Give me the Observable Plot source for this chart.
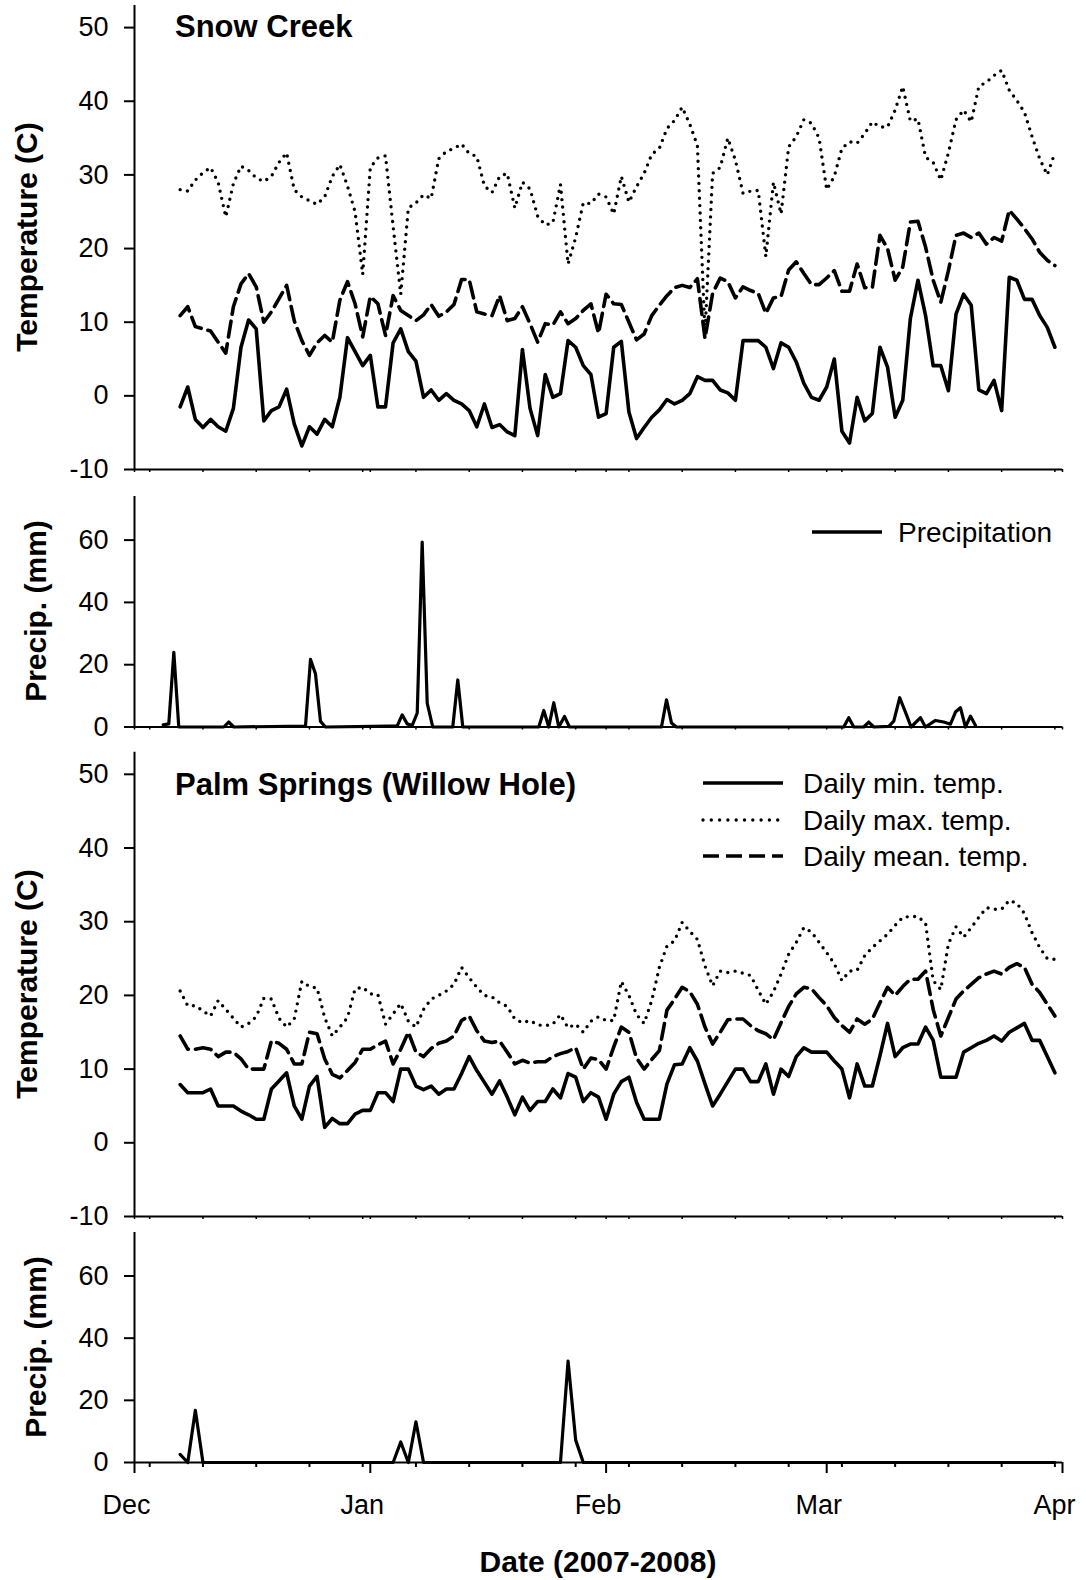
<!DOCTYPE html>
<html><head><meta charset="utf-8">
<script src="https://cdn.jsdelivr.net/npm/d3@7"></script>
<script src="https://cdn.jsdelivr.net/npm/@observablehq/plot@0.6"></script>
<style>
html,body{margin:0;padding:0;background:#fff;}
#chart{position:relative;width:1086px;height:1580px;background:#fff;}
</style></head><body><div id="chart"></div>
<script>
// ---------- DATA (daily values from 7 Dec 2007 to 31 Mar 2008) ----------
const tempStartDate = "2007-12-07";
const scMin = [
 -1.5, 1.2, -3.2, -4.3, -3.2, -4.2, -4.8, -1.7, 6.6, 10.3,
 9.1, -3.4, -2.0, -1.5, 0.9, -3.8, -6.8, -4.2, -5.2, -3.2,
 -4.2, -0.2, 7.9, 6.0, 4.1, 5.5, -1.5, -1.5, 7.2, 9.1,
 6.0, 4.7, -0.2, 0.8, -0.6, 0.3, -0.6, -1.1, -2.0, -4.2,
 -1.1, -4.3, -3.9, -4.9, -5.4, 6.3, -1.7, -5.4, 2.9, -0.2,
 0.3, 7.5, 6.6, 4.1, 2.9, -2.9, -2.4, 6.6, 7.4, -2.2,
 -5.8, -4.3, -2.9, -1.9, -0.5, -1.1, -0.6, 0.3, 2.6, 2.1,
 2.1, 0.8, 0.4, -0.6, 7.5, 7.5, 7.5, 6.6, 3.7, 7.2,
 6.6, 4.6, 1.7, -0.2, -0.6, 1.2, 5.0, -4.8, -6.4, -0.2,
 -3.4, -2.4, 6.6, 3.9, -2.9, -0.6, 10.5, 15.7, 10.9, 4.1,
 4.1, 0.7, 11.1, 13.8, 12.3, 0.8, 0.3, 2.1, -2.0, 16.1,
 15.7, 13.1, 13.1, 10.9, 9.3, 6.6];
const scMax = [
 28.0, 27.8, 29.3, 30.3, 31.0, 29.0, 24.3, 28.8, 31.2, 30.6,
 29.6, 29.1, 29.8, 31.7, 33.0, 28.0, 27.0, 26.5, 26.0, 27.0,
 29.8, 31.4, 28.5, 25.0, 16.5, 31.0, 32.3, 32.6, 23.0, 13.8,
 25.5, 26.2, 27.3, 26.8, 32.2, 33.2, 33.6, 34.2, 32.9, 32.5,
 28.5, 27.6, 29.8, 30.2, 25.5, 29.0, 28.1, 24.4, 23.2, 23.5,
 28.7, 17.9, 21.5, 26.2, 26.1, 27.4, 27.0, 24.7, 29.8, 26.3,
 28.4, 30.2, 32.8, 33.6, 36.3, 37.4, 39.2, 36.9, 34.0, 8.5,
 30.2, 31.0, 35.0, 32.0, 27.5, 27.8, 27.9, 18.9, 29.0, 24.7,
 33.8, 35.2, 37.5, 37.0, 35.0, 28.0, 29.8, 33.6, 34.5, 34.3,
 35.6, 37.2, 36.5, 36.5, 38.8, 42.0, 37.3, 37.6, 32.4, 31.7,
 29.3, 33.0, 37.5, 38.8, 37.2, 42.0, 42.6, 43.5, 44.2, 41.5,
 40.1, 38.5, 35.2, 32.2, 30.0, 33.0];
const scMean = [
 10.9, 12.1, 9.4, 9.1, 8.8, 7.3, 5.8, 12.1, 15.2, 16.6,
 14.8, 10.0, 11.4, 13.2, 15.0, 10.2, 7.5, 5.5, 7.2, 8.2,
 7.3, 13.0, 15.5, 12.5, 8.0, 13.5, 12.5, 8.2, 13.6, 11.6,
 10.9, 10.2, 11.0, 12.4, 10.8, 11.4, 12.4, 15.8, 15.8, 11.4,
 11.1, 10.9, 13.6, 10.2, 10.5, 12.1, 9.8, 7.3, 9.8, 9.6,
 11.4, 9.8, 10.5, 11.6, 12.5, 8.5, 13.8, 12.5, 12.4, 10.0,
 7.6, 8.4, 10.9, 12.3, 13.6, 14.7, 15.0, 14.7, 15.9, 7.8,
 13.9, 16.0, 15.5, 13.3, 14.8, 14.3, 13.9, 11.2, 13.3, 13.5,
 17.1, 18.2, 16.6, 15.1, 15.1, 16.0, 17.0, 14.2, 14.2, 17.9,
 14.7, 14.7, 21.8, 20.0, 15.7, 17.5, 23.6, 23.7, 20.2, 15.7,
 12.7, 17.0, 21.8, 22.1, 21.5, 22.1, 20.6, 21.5, 21.0, 25.2,
 24.0, 22.7, 21.3, 19.5, 18.4, 17.7];
const psMin = [
 7.9, 6.8, 6.8, 6.8, 7.3, 5.0, 5.0, 5.0, 4.3, 3.8,
 3.2, 3.2, 7.3, 8.4, 9.5, 5.0, 3.2, 7.7, 9.0, 2.1,
 3.3, 2.6, 2.6, 3.9, 4.4, 4.4, 6.8, 6.8, 5.6, 10.0,
 10.0, 7.7, 7.2, 7.7, 6.6, 7.3, 7.3, 9.4, 11.7, 9.8,
 8.2, 6.6, 8.4, 6.2, 3.8, 6.2, 4.4, 5.6, 5.6, 7.3,
 6.1, 9.4, 8.9, 5.6, 6.8, 6.2, 3.2, 6.6, 8.3, 8.9,
 5.5, 3.2, 3.2, 3.2, 8.0, 10.6, 10.7, 12.9, 11.1, 8.0,
 5.0, 6.6, 8.3, 10.0, 10.0, 8.3, 8.3, 10.7, 6.6, 10.0,
 9.0, 11.7, 12.9, 12.3, 12.3, 12.3, 11.1, 10.0, 6.1, 10.7,
 7.7, 7.7, 11.8, 16.2, 11.7, 12.9, 13.4, 13.4, 15.7, 13.9,
 8.9, 8.9, 8.9, 12.3, 12.9, 13.5, 13.9, 14.5, 13.8, 15.0,
 15.6, 16.2, 13.9, 13.9, 11.7, 9.5];
const psMax = [
 20.6, 18.6, 18.6, 17.9, 17.2, 19.3, 18.1, 16.9, 15.7, 16.2,
 17.1, 19.6, 19.5, 16.9, 15.7, 16.8, 21.9, 21.2, 21.0, 17.0,
 14.5, 15.7, 17.0, 20.9, 21.1, 20.2, 20.1, 16.1, 17.5, 18.9,
 16.5, 15.7, 18.1, 19.5, 20.0, 20.6, 21.5, 23.8, 22.4, 21.1,
 20.0, 19.8, 19.0, 18.5, 16.8, 16.3, 16.6, 16.0, 15.9, 16.1,
 17.4, 15.6, 16.1, 15.0, 16.5, 17.1, 16.6, 16.6, 21.9, 20.0,
 17.4, 16.2, 19.3, 23.8, 26.7, 27.4, 29.9, 28.7, 27.6, 24.0,
 21.3, 23.3, 23.1, 23.3, 23.0, 22.7, 20.7, 18.8, 20.5, 22.9,
 25.6, 27.2, 29.2, 28.6, 27.2, 25.8, 24.3, 22.0, 23.3, 23.4,
 25.4, 26.5, 27.4, 28.3, 29.5, 30.6, 30.7, 30.7, 29.8, 22.0,
 20.8, 27.0, 29.3, 27.9, 29.2, 30.6, 31.9, 31.7, 31.7, 32.9,
 32.5, 31.1, 28.5, 26.5, 25.0, 24.9];
const psMean = [
 14.5, 12.7, 12.7, 12.9, 12.7, 11.7, 12.3, 12.3, 11.4, 10.0,
 10.0, 10.0, 13.8, 13.5, 12.7, 10.7, 10.7, 15.0, 14.8, 11.4,
 9.3, 8.8, 9.8, 10.9, 12.7, 12.7, 13.3, 13.8, 10.7, 12.7,
 15.0, 12.3, 11.7, 12.8, 13.5, 13.8, 14.5, 16.6, 17.2, 15.2,
 13.8, 13.6, 13.8, 12.3, 10.7, 11.2, 10.8, 11.0, 11.0, 11.7,
 12.1, 12.4, 12.9, 10.0, 11.5, 11.3, 10.0, 13.0, 15.7, 15.0,
 11.5, 10.0, 11.3, 12.5, 18.0, 19.5, 21.1, 20.5, 18.8, 15.7,
 13.4, 15.0, 16.7, 16.8, 16.8, 15.9, 15.2, 14.8, 14.0, 16.3,
 18.5, 20.2, 21.1, 20.9, 19.7, 18.6, 17.0, 15.9, 15.0, 16.8,
 16.1, 16.8, 19.0, 21.1, 20.0, 21.2, 22.2, 22.2, 23.3, 18.1,
 14.5, 17.0, 19.5, 20.6, 21.5, 22.4, 22.9, 23.3, 22.9, 23.8,
 24.3, 23.8, 21.5, 20.4, 18.8, 17.2];
// Palm Springs daily precipitation (mm), same dates as temperatures
const psPrecip = [
 2.6, 0, 16.8, 0, 0, 0, 0, 0, 0, 0,
 0, 0, 0, 0, 0, 0, 0, 0, 0, 0,
 0, 0, 0, 0, 0, 0, 0, 0, 0, 6.6,
 0, 13.1, 0, 0, 0, 0, 0, 0, 0, 0,
 0, 0, 0, 0, 0, 0, 0, 0, 0, 0,
 0, 32.6, 7.2, 0, 0, 0, 0, 0, 0, 0,
 0, 0, 0, 0, 0, 0, 0, 0, 0, 0,
 0, 0, 0, 0, 0, 0, 0, 0, 0, 0,
 0, 0, 0, 0, 0, 0, 0, 0, 0, 0,
 0, 0, 0, 0, 0, 0, 0, 0, 0, 0,
 0, 0, 0, 0, 0, 0, 0, 0, 0, 0,
 0, 0, 0, 0, 0, 0];
// Snow Creek precipitation readings: time (days after 1 Dec 2007) and amount (mm)
const scPrecipDay = [3.77, 4.51, 5.17, 5.82, 11.74, 12.38, 13.05, 22.48, 23.14, 23.79, 24.45, 25.11,
 33.43, 34.53, 35.19, 35.85, 36.51, 37.17, 37.82, 38.48, 39.21, 41.84, 42.50, 43.16,
 53.15, 53.81, 54.46, 55.12, 55.78, 56.53, 57.18, 69.28, 69.94, 70.59, 71.25,
 93.24, 93.90, 94.56, 95.87, 96.53, 97.19, 99.16, 99.82, 100.60, 101.35, 102.10,
 103.33, 103.98, 105.30, 106.39, 107.27, 107.93, 108.58, 109.24, 109.90, 110.56];
const scPrecipMm = [0.7, 1.0, 24.0, 0, 0, 1.6, 0, 0.3, 21.7, 17.1, 1.8, 0,
 0.3, 0.3, 3.9, 1.0, 0.5, 4.5, 59.4, 7.7, 0, 0, 15.1, 0,
 0, 5.3, 0, 7.8, 0, 3.4, 0, 0, 8.7, 1.3, 0,
 0, 3.0, 0, 0, 1.6, 0, 0.2, 1.9, 9.4, 4.8, 0,
 3.0, 0, 2.1, 1.6, 0.9, 4.8, 6.2, 0, 3.5, 0.5];
const tempTicks = [-10, 0, 10, 20, 30, 40, 50];
const precipTicks = [0, 20, 40, 60];
const titles = ["Snow Creek", "Palm Springs (Willow Hole)"];
const legendLabels = ["Daily min. temp.", "Daily max. temp.", "Daily mean. temp."];

// ---------- BUILD ----------
const FONT = '"Liberation Sans", Arial, Helvetica, sans-serif';
const DAY = 864e5;
const x0 = new Date(Date.UTC(2007, 11, 1));
const xDomain = [x0, new Date(Date.UTC(2008, 3, 1))];
const tickEnd = new Date(Date.UTC(2008, 3, 2));
const monthTicks = d3.utcMonth.range(x0, tickEnd);
const weekTicks = d3.utcMonday.range(x0, tickEnd);
const t0 = new Date(tempStartDate + "T00:00:00Z").getTime();
const dates = scMin.map((_, i) => new Date(t0 + i * DAY));
const sc = dates.map((date, i) => ({date, min: scMin[i], max: scMax[i], mean: scMean[i]}));
const ps = dates.map((date, i) => ({date, min: psMin[i], max: psMax[i], mean: psMean[i], p: psPrecip[i]}));
const scP = scPrecipDay.map((d, i) => ({date: new Date(x0.getTime() + d * DAY), p: scPrecipMm[i]}));

const chart = document.getElementById("chart");

const minorAxis = () => [Plot.axisX({ticks: weekTicks.concat(monthTicks), tickSize: 3, tickFormat: () => "", strokeWidth: 1.5, label: null})];

function panel({top, height, marginTop, marginBottom, yDomain, yTicks, marks, xAxis}) {
  const svg = Plot.plot({
    width: 1086, height, marginLeft: 134, marginRight: 24, marginTop, marginBottom,
    x: {type: "utc", domain: xDomain},
    y: {domain: yDomain},
    style: {fontFamily: FONT, background: "transparent", overflow: "visible", color: "black"},
    marks: [
      Plot.axisY({ticks: yTicks, tickSize: 10, tickPadding: 16, tickFormat: d => String(d), fontSize: 27, strokeWidth: 2, label: null}),
      ...xAxis,
      ...marks,
      Plot.ruleX([xDomain[0]], {stroke: "black", strokeWidth: 2}),
      Plot.ruleY([yDomain[0]], {stroke: "black", strokeWidth: 2})
    ]
  });
  svg.style.position = "absolute";
  svg.style.top = top + "px";
  svg.style.left = "0px";
  svg.style.maxWidth = "none";
  chart.append(svg);
}

function tempMarks(rows) {
  return [
    Plot.lineY(rows, {x: "date", y: "mean", stroke: "black", strokeWidth: 3.6, strokeDasharray: "16 7"}),
    Plot.lineY(rows, {x: "date", y: "max", stroke: "black", strokeWidth: 3.4, strokeDasharray: "0 7.4", strokeLinecap: "round"}),
    Plot.lineY(rows, {x: "date", y: "min", stroke: "black", strokeWidth: 3.6})
  ];
}

panel({top: 0, height: 480, marginTop: 5, marginBottom: 11, yDomain: [-10, 53], yTicks: tempTicks,
  marks: tempMarks(sc), xAxis: minorAxis()});
panel({top: 490, height: 245, marginTop: 6, marginBottom: 8.5, yDomain: [0, 74], yTicks: precipTicks,
  marks: [Plot.lineY(scP, {x: "date", y: "p", stroke: "black", strokeWidth: 3.2})], xAxis: minorAxis()});
panel({top: 745, height: 480, marginTop: 6.7, marginBottom: 9, yDomain: [-10, 53], yTicks: tempTicks,
  marks: tempMarks(ps), xAxis: minorAxis()});
panel({top: 1225, height: 355, marginTop: 7, marginBottom: 118, yDomain: [0, 74], yTicks: precipTicks,
  marks: [Plot.lineY(ps, {x: "date", y: "p", stroke: "black", strokeWidth: 3.2})],
  xAxis: [
    Plot.axisX({ticks: weekTicks, tickSize: 5, tickFormat: () => "", strokeWidth: 2, label: null}),
    Plot.axisX({ticks: monthTicks, tickSize: 11, tickFormat: () => "", strokeWidth: 2, label: null}),
    Plot.axisX({ticks: monthTicks, tickSize: 0, tickPadding: 32, dx: -8, tickFormat: d3.utcFormat("%b"), fontSize: 27, label: null})
  ]});

// ---------- TEXT OVERLAY (titles, axis labels, legends) ----------
const ov = d3.create("svg").attr("width", 1086).attr("height", 1580)
  .style("position", "absolute").style("left", "0").style("top", "0")
  .style("pointer-events", "none").style("font-family", FONT);
function text(x, y, s, size, weight, anchor, rot) {
  const t = ov.append("text").text(s).attr("font-size", size).attr("font-weight", weight)
    .attr("text-anchor", anchor || "start").attr("fill", "black");
  if (rot) t.attr("transform", `translate(${x},${y}) rotate(-90)`);
  else t.attr("x", x).attr("y", y);
  return t;
}
text(175, 36.5, titles[0], 31, 700);
text(175, 795, titles[1], 31, 700);
text(37, 237, "Temperature (C)", 30, 700, "middle", true);
text(37, 984, "Temperature (C)", 30, 700, "middle", true);
text(46, 611, "Precip. (mm)", 30, 700, "middle", true);
text(46, 1347, "Precip. (mm)", 30, 700, "middle", true);
text(598, 1572, "Date (2007-2008)", 30, 700, "middle");
// precipitation legend
ov.append("line").attr("x1", 812).attr("x2", 882).attr("y1", 532).attr("y2", 532).attr("stroke", "black").attr("stroke-width", 3.4);
text(898, 542, "Precipitation", 28, 400);
// temperature legend
const legY = [783, 820, 856];
const legDash = [null, "0 8.3", "16 7"];
legY.forEach((y, i) => {
  const l = ov.append("line").attr("x1", 703).attr("x2", 783).attr("y1", y).attr("y2", y)
    .attr("stroke", "black").attr("stroke-width", 3.4);
  if (legDash[i]) l.attr("stroke-dasharray", legDash[i]);
  if (i === 1) l.attr("stroke-linecap", "round");
  text(803, y + 10, legendLabels[i], 28, 400);
});
chart.append(ov.node());
</script></body></html>
